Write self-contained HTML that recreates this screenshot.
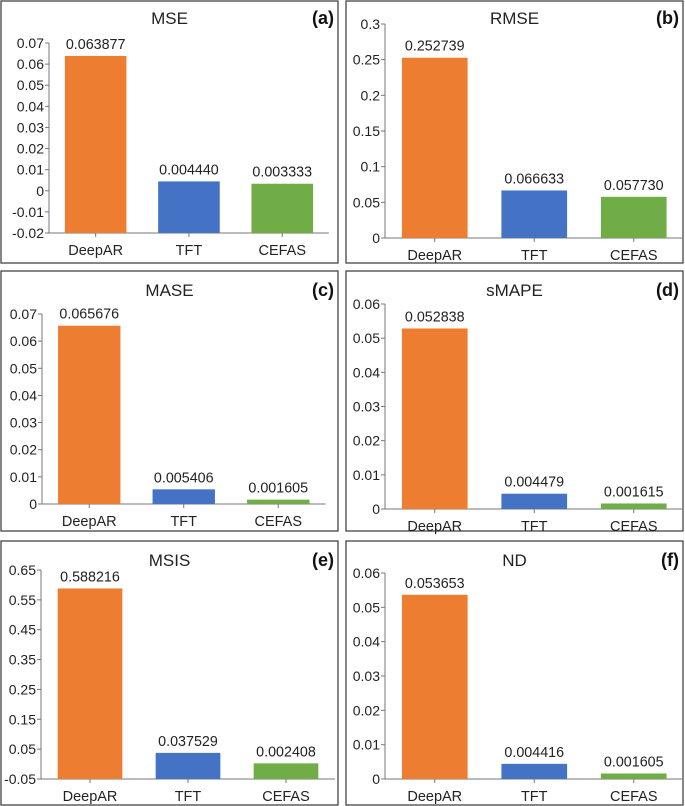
<!DOCTYPE html>
<html><head><meta charset="utf-8"><style>
html,body{margin:0;padding:0;background:#fff;}
svg{display:block;font-family:"Liberation Sans",Arial,sans-serif;}
</style></head><body>
<svg id="fig" width="685" height="806" viewBox="0 0 685 806"></svg>
<script>
const categories = ["DeepAR","TFT","CEFAS"];
const colors = ["#ED7D31","#4472C4","#70AD47"];
const titles = ["MSE","RMSE","MASE","sMAPE","MSIS","ND"];
const letters = ["(a)","(b)","(c)","(d)","(e)","(f)"];
const mseValues = [0.063877,0.004440,0.003333];
const rmseValues = [0.252739,0.066633,0.057730];
const maseValues = [0.065676,0.005406,0.001605];
const smapeValues = [0.052838,0.004479,0.001615];
const msisValues = [0.588216,0.037529,0.002408];
const ndValues = [0.053653,0.004416,0.001605];
const mseTicks = ["-0.02","-0.01","0","0.01","0.02","0.03","0.04","0.05","0.06","0.07"];
const rmseTicks = ["0","0.05","0.1","0.15","0.2","0.25","0.3"];
const maseTicks = ["0","0.01","0.02","0.03","0.04","0.05","0.06","0.07"];
const smapeTicks = ["0","0.01","0.02","0.03","0.04","0.05","0.06"];
const msisTicks = ["-0.05","0.05","0.15","0.25","0.35","0.45","0.55","0.65"];
const ndTicks = ["0","0.01","0.02","0.03","0.04","0.05","0.06"];
const allValues = [mseValues,rmseValues,maseValues,smapeValues,msisValues,ndValues];
const allTicks = [mseTicks,rmseTicks,maseTicks,smapeTicks,msisTicks,ndTicks];

const layout = [
 {bx:1,by:1,bw:337,bh:262,ax:49,top:43,bot:233,cw:93.3,ty:18},
 {bx:346,by:1,bw:337,bh:262,ax:385,top:24,bot:238,cw:99.5,ty:18},
 {bx:1,by:271,bw:337,bh:260,ax:42,top:314,bot:504,cw:94.5,ty:290},
 {bx:346,by:271,bw:337,bh:260,ax:385,top:304,bot:509,cw:99.5,ty:290},
 {bx:1,by:541,bw:337,bh:264,ax:41,top:570,bot:779,cw:98,ty:560},
 {bx:346,by:541,bw:337,bh:264,ax:385,top:573,bot:779,cw:99.5,ty:560}
];
const NS="http://www.w3.org/2000/svg";
const svg=document.getElementById('fig');
function mk(tag,attrs,parent){const e=document.createElementNS(NS,tag);for(const k in attrs)e.setAttribute(k,attrs[k]);(parent||svg).appendChild(e);return e;}

for(let p=0;p<6;p++){
  const L=layout[p], vals=allValues[p], ticks=allTicks[p];
  const g=mk('g',{});
  
  
  const box=mk('rect',{x:L.bx,y:L.by,width:L.bw,height:L.bh,fill:'#fff',stroke:'#444','stroke-width':1.3},g);
  
  
  const tmin=parseFloat(ticks[0]), tmax=parseFloat(ticks[ticks.length-1]);
  const y=v=>L.bot-(v-tmin)/(tmax-tmin)*(L.bot-L.top);
  const xr=L.ax+3*L.cw;
  const ya=mk('line',{x1:L.ax,y1:L.top,x2:L.ax,y2:L.bot,stroke:'#777','stroke-width':1},g);
  
  
  ticks.forEach(t=>{
    const v=parseFloat(t), yy=y(v);
    mk('line',{x1:L.ax-4,y1:yy,x2:L.ax,y2:yy,stroke:'#777','stroke-width':1},g);
    const tx=mk('text',{x:L.ax-5,y:yy+5,'text-anchor':'end','font-size':14,fill:'#222'},g);
    tx.textContent=t;
    
    
  });
  const baseY=L.bot;
  const xa=mk('line',{x1:L.ax,y1:baseY,x2:xr,y2:baseY,stroke:'#777','stroke-width':1},g);
  
  
  categories.forEach((c,i)=>{
    const cx=L.ax+L.cw*(i+0.5);
    mk('line',{x1:cx,y1:baseY,x2:cx,y2:baseY+4,stroke:'#777','stroke-width':1},g);
    const bw=L.cw*0.66;
    const vy=y(vals[i]);
    const bar=mk('rect',{x:cx-bw/2,y:vy,width:bw,height:baseY-vy,fill:colors[i]},g);
    
    
    const vl=mk('text',{x:cx,y:vy-7,'text-anchor':'middle','font-size':14.3,fill:'#222'},g);
    vl.textContent=vals[i].toFixed(6);
    
    
    const cl=mk('text',{x:cx,y:baseY+22,'text-anchor':'middle','font-size':14.5,fill:'#222'},g);
    cl.textContent=c;
    
    
  });
  const ti=mk('text',{x:L.bx+L.bw/2,y:L.ty+6,'text-anchor':'middle','font-size':17,fill:'#222'},g);
  ti.textContent=titles[p];
  
  
  const le=mk('text',{x:L.bx+L.bw-4,y:L.ty+6,'text-anchor':'end','font-size':18,'font-weight':'bold',fill:'#111'},g);
  le.textContent=letters[p];
  
  
}
</script>
</body></html>
